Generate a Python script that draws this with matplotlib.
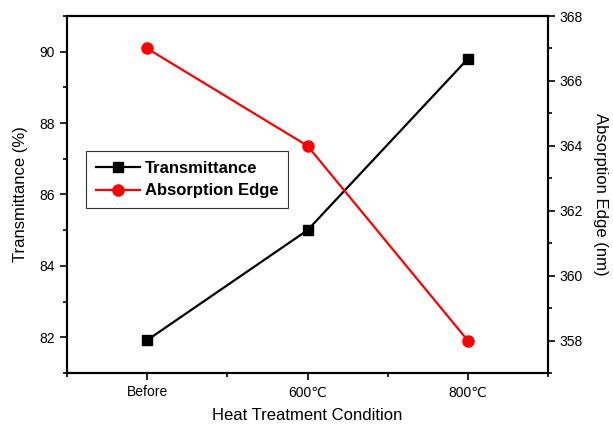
import numpy as np
import matplotlib.pyplot as plt
from matplotlib.ticker import MultipleLocator

plt.rcParams['font.family'] = ['Liberation Sans', 'DejaVu Sans']

conditions = ['Before', '600℃', '800℃']
transmittance = [81.92, 85.0, 89.8]
absorption_edge = [367.0, 364.0, 358.0]

fig = plt.figure(figsize=(6.13, 4.30), dpi=100)
ax = fig.add_axes([67/613, 57/430, 481/613, 357/430])
ax2 = ax.twinx()

x = np.arange(len(conditions))
l1, = ax.plot(x, transmittance, color='black', marker='s', markersize=7, lw=1.6,
              label='Transmittance')
l2, = ax2.plot(x, absorption_edge, color='red', marker='o', markersize=8, lw=1.6,
               label='Absorption Edge')

ax.set_xlim(-0.5, 2.5)
ax.set_ylim(81, 91)
ax2.set_ylim(357, 368)
ax.set_xticks(x)
ax.set_xticklabels(conditions)
ax.xaxis.set_minor_locator(MultipleLocator(0.5))
ax.yaxis.set_major_locator(MultipleLocator(2))
ax.yaxis.set_minor_locator(MultipleLocator(1))
ax2.yaxis.set_major_locator(MultipleLocator(2))
ax2.yaxis.set_minor_locator(MultipleLocator(1))

for a in (ax, ax2):
    a.tick_params(which='major', direction='out', length=5, width=1.2, labelsize=10,
                  colors='black')
    a.tick_params(which='minor', direction='out', length=3, width=1.2)
    for s in a.spines.values():
        s.set_linewidth(1.5)
ax.tick_params(axis='x', pad=4)

ax.set_xlabel('Heat Treatment Condition', fontsize=12, labelpad=6)
ax.set_ylabel('Transmittance (%)', fontsize=12, labelpad=8)
ax2.set_ylabel('Absorption Edge (nm)', fontsize=12, rotation=270, labelpad=18)

leg = ax.legend(handles=[l1, l2], loc='upper left', bbox_to_anchor=(0.04, 0.622),
                borderaxespad=0, prop={'weight': 'bold', 'size': 12}, frameon=True,
                fancybox=False, edgecolor='black', handlelength=2.6, borderpad=0.6,
                labelspacing=0.45, handletextpad=0.3)
leg.get_frame().set_linewidth(0.8)

fig.savefig('out.png', dpi=100)
